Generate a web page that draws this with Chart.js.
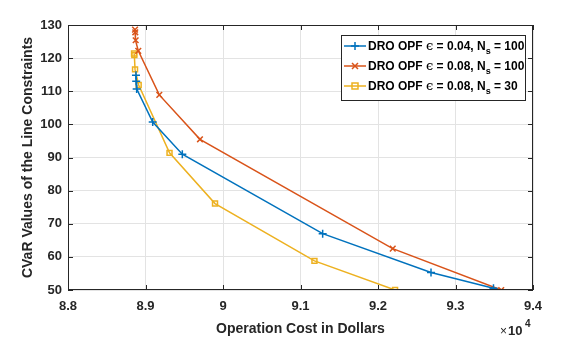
<!DOCTYPE html>
<html>
<head>
<meta charset="utf-8">
<script src="https://cdn.jsdelivr.net/npm/chart.js@4"></script>
<style>
  html, body { margin: 0; padding: 0; background: #fff; }
  #wrap { width: 574px; height: 338px; }
</style>
</head>
<body>
<div id="wrap"><canvas id="cvar"></canvas></div>
<script>
// operation cost (dollars) and CVaR values
const costA = [88877, 88880, 88886, 89093, 89475, 91286, 92684, 93490];
const cvarA = [114.8, 113.0, 110.7, 100.7, 91.0, 67.0, 55.3, 50.5];
const costB = [88865, 88868, 88873, 88907, 89178, 89703, 92190, 93590];
const cvarB = [128.6, 127.8, 125.4, 122.2, 108.9, 95.5, 62.5, 50.0];
const costC = [88852, 88856, 88865, 88912, 89310, 89897, 91180, 92220];
const cvarC = [121.4, 120.9, 116.6, 111.9, 91.4, 76.1, 58.8, 50.0];
const seriesEps = ["0.04", "0.08", "0.08"];
const seriesNs = ["100", "100", "30"];
const xTicks = [88000, 89000, 90000, 91000, 92000, 93000, 94000];

const colors = ["#0072BD", "#D95319", "#EDB120"];
const styles = ["cross", "crossRot", "rect"];
const axisColor = "#262626";
const gridColor = "#e3e3e3";

function pts(xs, ys) { return xs.map((x, i) => ({ x: x, y: ys[i] })); }

const datasets = [pts(costA, cvarA), pts(costB, cvarB), pts(costC, cvarC)].map((d, i) => ({
  label: "DRO OPF",
  data: d,
  showLine: true,
  borderColor: colors[i],
  backgroundColor: "rgba(0,0,0,0)",
  borderWidth: 1.5,
  pointStyle: styles[i],
  pointRadius: styles[i] == "rect" ? 3.5 : 4,
  pointBorderWidth: 1.5,
  tension: 0
}));

// box, inner ticks, exponent and legend in MATLAB style
const matlabBits = {
  id: "matlabBits",
  afterDraw(chart) {
    const c = chart.ctx, a = chart.chartArea;
    const xs = chart.scales.x, ys = chart.scales.y;
    c.save();
    c.strokeStyle = axisColor;
    c.lineWidth = 1;
    c.strokeRect(a.left + 0.5, a.top + 0.5, a.right - a.left - 1, a.bottom - a.top - 1);
    c.beginPath();
    xTicks.forEach(v => {
      const px = Math.round(xs.getPixelForValue(v)) + 0.5;
      c.moveTo(px, a.bottom); c.lineTo(px, a.bottom - 5);
      c.moveTo(px, a.top); c.lineTo(px, a.top + 5);
    });
    for (let v = 50; v <= 130; v += 10) {
      const py = Math.round(ys.getPixelForValue(v)) + 0.5;
      c.moveTo(a.left, py); c.lineTo(a.left + 5, py);
      c.moveTo(a.right, py); c.lineTo(a.right - 5, py);
    }
    c.stroke();

    // x10^4
    c.fillStyle = axisColor;
    c.textBaseline = "alphabetic";
    c.font = "12px 'Liberation Sans', Arial, sans-serif";
    c.fillText("\u00d7", 500, 335);
    c.font = "bold 13px 'Liberation Sans', Arial, sans-serif";
    c.fillText("10", 508, 335);
    c.font = "bold 10px 'Liberation Sans', Arial, sans-serif";
    c.fillText("4", 525, 327);

    // legend
    const bx = 341, by = 35, bw = 184, bh = 65;
    c.fillStyle = "#fff";
    c.fillRect(bx, by, bw, bh);
    c.strokeStyle = axisColor;
    c.strokeRect(bx + 0.5, by + 0.5, bw, bh);
    const rows = [46, 66, 86];
    rows.forEach((ry, i) => {
      c.strokeStyle = colors[i];
      c.lineWidth = 1.5;
      c.beginPath(); c.moveTo(344, ry); c.lineTo(366, ry); c.stroke();
      c.beginPath();
      if (styles[i] == "cross") {
        c.moveTo(351, ry); c.lineTo(359, ry); c.moveTo(355, ry - 4); c.lineTo(355, ry + 4);
      } else if (styles[i] == "crossRot") {
        c.moveTo(352, ry - 3); c.lineTo(358, ry + 3); c.moveTo(358, ry - 3); c.lineTo(352, ry + 3);
      } else {
        c.rect(352, ry - 3, 6, 6);
      }
      c.stroke();
      let tx = 368;
      const base = ry + 4;
      const bold = "bold 12px 'Liberation Sans', Arial, sans-serif";
      c.fillStyle = "#000";
      c.font = bold;
      let s = "DRO OPF ";
      c.fillText(s, tx, base); tx += c.measureText(s).width;
      c.font = "13px 'DejaVu Serif', serif";
      s = "\u03f5";
      c.fillText(s, tx, base); tx += c.measureText(s).width;
      c.font = bold;
      s = " = " + seriesEps[i] + ", N";
      c.fillText(s, tx, base); tx += c.measureText(s).width;
      c.font = "bold 9px 'Liberation Sans', Arial, sans-serif";
      c.fillText("s", tx, base + 4); tx += c.measureText("s").width;
      c.font = bold;
      c.fillText(" = " + seriesNs[i], tx, base);
    });
    c.restore();
  }
};

new Chart(document.getElementById("cvar"), {
  type: "scatter",
  data: { datasets: datasets },
  options: {
    responsive: true,
    maintainAspectRatio: false,
    animation: false,
    layout: { padding: { top: 25, right: 41, left: 0, bottom: 0 } },
    plugins: { legend: { display: false }, tooltip: { enabled: false } },
    scales: {
      x: {
        type: "linear",
        min: 88000, max: 94000,
        afterBuildTicks: s => { s.ticks = xTicks.map(v => ({ value: v })); },
        afterFit: s => { s.height = 48; },
        grid: { color: gridColor, drawTicks: false },
        border: { display: false },
        ticks: {
          padding: 9,
          color: axisColor,
          font: { family: "'Liberation Sans', Arial, sans-serif", size: 13, weight: "bold" },
          callback: v => String(Number((v / 1e4).toFixed(1)))
        },
        title: {
          display: true,
          text: "Operation Cost in Dollars",
          color: axisColor,
          padding: { top: 3, bottom: 0 },
          font: { family: "'Liberation Sans', Arial, sans-serif", size: 14, weight: "bold" }
        }
      },
      y: {
        min: 50, max: 130,
        afterFit: s => { s.width = 68; },
        grid: { color: gridColor, drawTicks: false },
        border: { display: false },
        ticks: {
          stepSize: 10,
          padding: 6,
          color: axisColor,
          font: { family: "'Liberation Sans', Arial, sans-serif", size: 13, weight: "bold" }
        },
        title: {
          display: true,
          text: "CVaR Values of the Line Constraints",
          color: axisColor,
          padding: { top: 20, bottom: 0 },
          font: { family: "'Liberation Sans', Arial, sans-serif", size: 14, weight: "bold" }
        }
      }
    }
  },
  plugins: [matlabBits]
});
</script>
</body>
</html>
